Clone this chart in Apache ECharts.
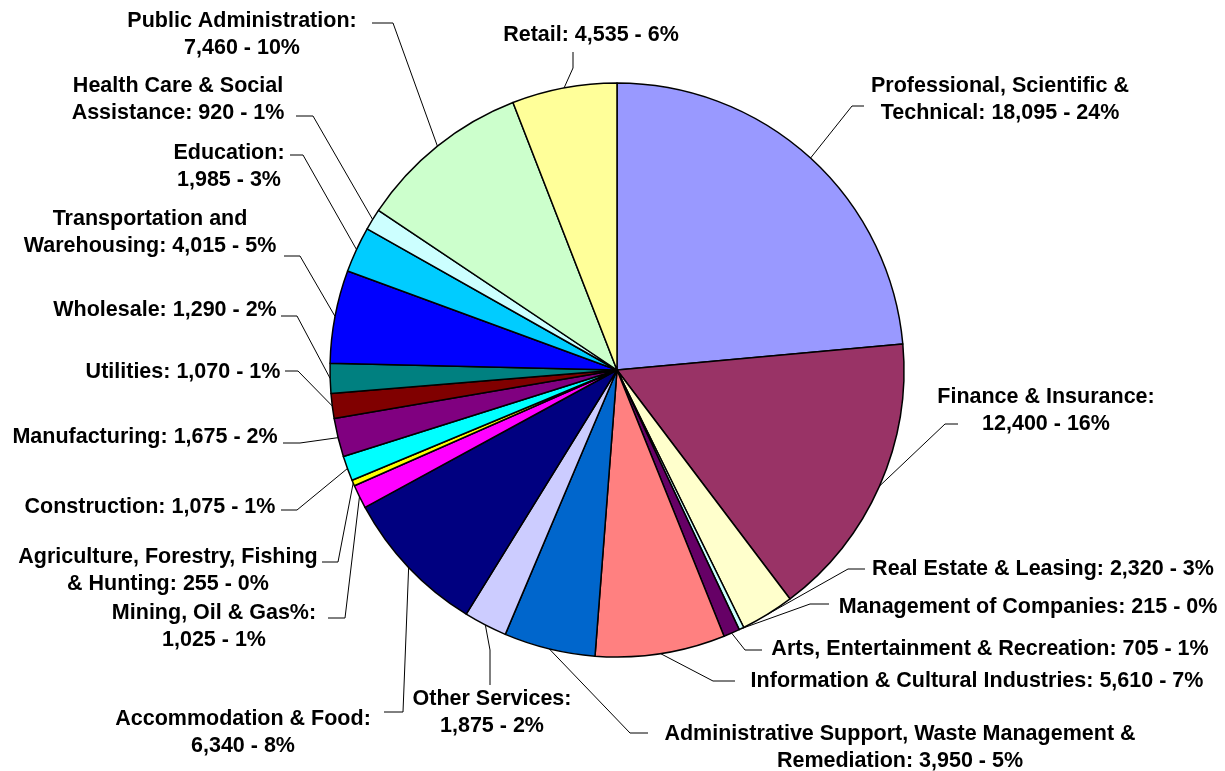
<!DOCTYPE html>
<html>
<head>
<meta charset="utf-8">
<script src="https://cdn.jsdelivr.net/npm/echarts@6/dist/echarts.min.js"></script>
<style>
  html, body { margin: 0; padding: 0; background: #fff; }
  #chart { width: 1225px; height: 771px; }
</style>
</head>
<body>
<div id="chart"></div>
<script>
// employment by sector, clockwise from 12 o'clock
const sectors = [
  'Professional, Scientific &\nTechnical',
  'Finance & Insurance',
  'Real Estate & Leasing',
  'Management of Companies',
  'Arts, Entertainment & Recreation',
  'Information & Cultural Industries',
  'Administrative Support, Waste Management &\nRemediation',
  'Other Services',
  'Accommodation & Food',
  'Mining, Oil & Gas%',
  'Agriculture, Forestry, Fishing\n& Hunting',
  'Construction',
  'Manufacturing',
  'Utilities',
  'Wholesale',
  'Transportation and\nWarehousing',
  'Education',
  'Health Care & Social\nAssistance',
  'Public Administration',
  'Retail',
]
const jobs = [18095, 12400, 2320, 215, 705, 5610, 3950, 1875, 6340, 1025, 255, 1075, 1675, 1070, 1290, 4015, 1985, 920, 7460, 4535]
// these labels wrap right after the colon
const breakAfterColon = ['Finance & Insurance', 'Other Services', 'Accommodation & Food', 'Mining, Oil & Gas%', 'Education', 'Public Administration']

const sliceColors = [
  '#9999FF', '#993366', '#FFFFCC', '#CCFFFF', '#660066', '#FF8080', '#0066CC', '#CCCCFF', '#000080', '#FF00FF',
  '#FFFF00', '#00FFFF', '#800080', '#800000', '#008080', '#0000FF', '#00CCFF', '#CCFFFF', '#CCFFCC', '#FFFF99',
]

// label block centres and leader-line bends (label placement, not data)
const labelSpots = [
  [1000, 100], [1046, 411], [1043, 569], [1028, 607], [990, 649],
  [977, 681], [900, 748], [492, 713], [243, 733], [214, 627],
  [168, 571], [150, 507], [145, 437], [183, 372], [165, 310],
  [150, 233], [229, 167], [178, 100], [242, 35], [591, 35],
]
const leaderBends = [
  [[852, 106], [864, 106]],
  [[945, 424], [958, 424]],
  [[848, 569], [865, 569]],
  [[810, 604], [829, 604]],
  [[745, 650], [762, 650]],
  [[713, 681], [735, 681]],
  [[630, 733], [648, 733]],
  [[490, 650], [490, 685]],
  [[403, 712], [384, 712]],
  [[345, 618], [328, 618]],
  [[338, 562], [322, 562]],
  [[297, 510], [281, 510]],
  [[300, 443], [283, 443]],
  [[298, 371], [285, 371]],
  [[297, 316], [281, 316]],
  [[300, 256], [284, 256]],
  [[303, 155], [290, 155]],
  [[313, 116], [296, 116]],
  [[393, 23], [372, 23]],
  [[573, 68], [573, 52]],
]

const total = jobs.reduce((a, b) => a + b, 0)
const fmt = (v) => v.toLocaleString('en-US')

const labelText = (p) => {
  const pct = Math.round((p.value / total) * 100)
  const sep = breakAfterColon.includes(p.name) ? ':\n' : ': '
  return `${p.name}${sep}${fmt(p.value)} - ${pct}%`
}

const chart = echarts.init(document.getElementById('chart'), null, { renderer: 'canvas' })

chart.setOption({
  backgroundColor: '#fff',
  animation: false,
  series: [{
    type: 'pie',
    center: [617, 370],
    radius: 287,
    startAngle: 90,
    clockwise: true,
    avoidLabelOverlap: false,
    emphasis: { scale: false },
    data: sectors.map((name, i) => ({ name, value: jobs[i], itemStyle: { color: sliceColors[i] } })),
    itemStyle: { borderColor: '#000', borderWidth: 1.5 },
    label: {
      show: true,
      position: 'outside',
      formatter: labelText,
      fontFamily: '"Liberation Sans", Arial, sans-serif',
      fontWeight: 'bold',
      fontSize: 21.5,
      lineHeight: 27,
      color: '#000',
      align: 'center',
    },
    labelLine: {
      show: true,
      length: 10,
      length2: 10,
      lineStyle: { color: '#000', width: 1 },
    },
    labelLayout: (p) => {
      const i = p.dataIndex
      const start = p.labelLinePoints ? p.labelLinePoints[0] : leaderBends[i][0]
      return {
        x: labelSpots[i][0],
        y: labelSpots[i][1],
        align: 'center',
        verticalAlign: 'middle',
        labelLinePoints: [start, leaderBends[i][0], leaderBends[i][1]],
      }
    },
  }],
})
</script>
</body>
</html>
